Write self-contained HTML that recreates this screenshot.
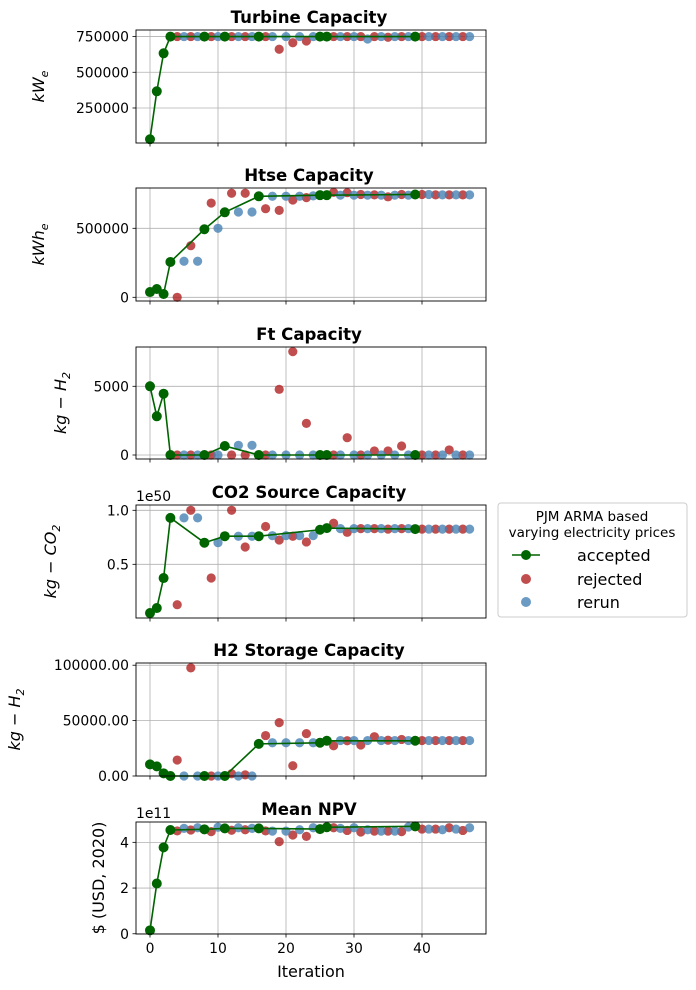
<!DOCTYPE html>
<html><head><meta charset="utf-8"><style>
html,body{margin:0;padding:0;background:#fff;}
svg{display:block;font-family:"DejaVu Sans","Liberation Sans",sans-serif;}
</style></head><body>
<svg id="chart" width="696" height="990" viewBox="0 0 696 990" xmlns="http://www.w3.org/2000/svg"></svg>
<script>
// Iteration status: A = accepted, R = rejected, B = rerun
const status = ["A","A","A","A","R","B","R","B","A","R","B","A","R","B","R","B","A","R","B","R","B","R","B","R","B","A","A","R","B","R","B","R","B","R","B","R","B","R","B","A","R","B","R","B","R","B","R","B"];
const turbineVals = [31000,367000,633000,750000,750000,750000,750000,750000,750000,750000,750000,750000,750000,750000,750000,750000,750000,750000,750000,661000,750000,707000,750000,719000,750000,750000,750000,750000,750000,750000,750000,750000,733000,750000,750000,745000,750000,750000,750000,750000,750000,750000,750000,750000,750000,750000,750000,750000];
const htseVals = [38000,60000,24000,256000,0,261000,374000,261000,493000,683000,500000,616000,754000,618000,754000,618000,732000,642000,732000,630000,732000,705000,732000,722000,735000,740000,740000,760000,740000,758000,740000,745000,740000,742000,740000,728000,740000,745000,740000,745000,745000,745000,742000,742000,742000,742000,742000,742000];
const ftVals = [5000,2816,4460,0,0,0,0,0,0,0,0,655,0,706,0,706,0,0,0,4780,0,7520,0,2300,0,0,0,0,0,1260,0,0,0,290,0,290,0,655,0,0,0,0,0,0,370,0,0,0];
const co2Vals = [0.049,0.095,0.373,0.93,0.126,0.93,1.0,0.93,0.70,0.373,0.70,0.76,1.0,0.76,0.66,0.76,0.76,0.85,0.765,0.725,0.765,0.76,0.765,0.707,0.765,0.82,0.835,0.88,0.83,0.796,0.83,0.83,0.83,0.83,0.83,0.826,0.83,0.83,0.83,0.826,0.826,0.826,0.826,0.826,0.826,0.826,0.826,0.826];
const h2Vals = [10500,8700,2400,0,14400,0,97600,0,0,0,0,0,2000,0,1000,0,29000,36500,30000,48200,30000,9300,30000,38300,30000,30000,31800,27300,32000,31800,32000,28000,32000,35500,32000,32300,32000,33000,32000,31800,32000,32000,32000,32000,32000,32000,32000,32000];
const npvVals = [0.15,2.2,3.78,4.54,4.5,4.61,4.54,4.64,4.57,4.47,4.66,4.61,4.53,4.64,4.55,4.61,4.61,4.5,4.49,4.03,4.49,4.32,4.55,4.26,4.64,4.58,4.66,4.64,4.61,4.52,4.64,4.45,4.55,4.49,4.49,4.49,4.49,4.47,4.67,4.70,4.58,4.58,4.58,4.55,4.64,4.58,4.52,4.64];
const xTicks = [0,10,20,30,40];
const turbineTicks = [250000,500000,750000];
const htseTicks = [0,500000];
const ftTicks = [0,5000];
const co2Ticks = [0.5,1.0];
const co2TickLabels = ["0.5","1.0"];
const h2Ticks = [0,50000,100000];
const h2TickLabels = ["0.00","50000.00","100000.00"];
const npvTicks = [0,2,4];

const NS="http://www.w3.org/2000/svg";
const svg=document.getElementById('chart');
function mk(tag,attrs,parent){const e=document.createElementNS(NS,tag);for(const k in attrs)e.setAttribute(k,attrs[k]);(parent||svg).appendChild(e);return e;}
const AX_L=136, AX_R=486;
const TICK_FS=13.9, LAB_FS=16;
function xScale(v){return 150+v*6.8;}

const panels=[
 {name:"turbine",title:"Turbine Capacity",top:30,bot:143,ymin:4900,ymax:796000,vals:turbineVals,ticks:turbineTicks,labels:turbineTicks.map(String),ylab:'<tspan font-style="italic">kW</tspan><tspan font-style="italic" font-size="11" dy="4">e</tspan>',ylx:46},
 {name:"htse",title:"Htse Capacity",top:188,bot:301,ymin:-26800,ymax:792000,vals:htseVals,ticks:htseTicks,labels:htseTicks.map(String),ylab:'<tspan font-style="italic">kWh</tspan><tspan font-style="italic" font-size="11" dy="4">e</tspan>',ylx:46},
 {name:"ft",title:"Ft Capacity",top:347,bot:459,ymin:-291,ymax:7860,vals:ftVals,ticks:ftTicks,labels:ftTicks.map(String),ylab:'<tspan font-style="italic">kg − H</tspan><tspan font-style="italic" font-size="11" dy="4">2</tspan>',ylx:68},
 {name:"co2",title:"CO2 Source Capacity",top:505,bot:618,ymin:0.003,ymax:1.049,vals:co2Vals,ticks:co2Ticks,labels:co2TickLabels,ylab:'<tspan font-style="italic">kg − CO</tspan><tspan font-style="italic" font-size="11" dy="4">2</tspan>',ylx:58,offset:"1e50"},
 {name:"h2",title:"H2 Storage Capacity",top:663,bot:776,ymin:0,ymax:102000,vals:h2Vals,ticks:h2Ticks,labels:h2TickLabels,ylab:'<tspan font-style="italic">kg − H</tspan><tspan font-style="italic" font-size="11" dy="4">2</tspan>',ylx:22},
 {name:"npv",title:"Mean NPV",top:822,bot:934,ymin:-0.01,ymax:4.89,vals:npvVals,ticks:npvTicks,labels:npvTicks.map(String),ylab:'$ (USD, 2020)',ylx:106,offset:"1e11"}
];

panels.forEach((p,pi)=>{
  const g=mk('g',{});
  
  
  const yS=v=>p.bot-(v-p.ymin)/(p.ymax-p.ymin)*(p.bot-p.top);
  xTicks.forEach(t=>{const l=mk('line',{x1:xScale(t),x2:xScale(t),y1:p.top,y2:p.bot,stroke:'#b0b0b0','stroke-width':0.8},g);});
  p.ticks.forEach((t,i)=>{
    const y=yS(t);
    const l=mk('line',{x1:AX_L,x2:AX_R,y1:y,y2:y,stroke:'#b0b0b0','stroke-width':0.8},g);
    
    mk('line',{x1:AX_L-3.5,x2:AX_L,y1:y,y2:y,stroke:'#000','stroke-width':0.8},g);
    const tx=mk('text',{x:AX_L-7,y:y+5,'text-anchor':'end','font-size':TICK_FS},g);
    tx.textContent=p.labels[i];
    
  });
  xTicks.forEach(t=>{mk('line',{x1:xScale(t),x2:xScale(t),y1:p.bot,y2:p.bot+3.5,stroke:'#000','stroke-width':0.8},g);});
  ['R','B'].forEach(s=>{
    p.vals.forEach((v,i)=>{
      if(status[i]!==s)return;
      const c=mk('circle',{cx:xScale(i),cy:yS(v),r:4.6,fill:s==='R'?'#b22222':'#4682b4','fill-opacity':0.8},g);
      
      
    });
  });
  let d='';
  p.vals.forEach((v,i)=>{if(status[i]==='A'){d+=(d?'L':'M')+xScale(i)+','+yS(v);}});
  const pl=mk('path',{d:d,fill:'none',stroke:'#006400','stroke-width':1.6},g);
  
  p.vals.forEach((v,i)=>{
    if(status[i]!=='A')return;
    const c=mk('circle',{cx:xScale(i),cy:yS(v),r:5,fill:'#006400'},g);
    
    
  });
  const fr=mk('rect',{x:AX_L,y:p.top,width:AX_R-AX_L,height:p.bot-p.top,fill:'none',stroke:'#000','stroke-width':0.9},g);
  
  const ti=mk('text',{x:309,y:p.top-7,'text-anchor':'middle','font-size':16.6,'font-weight':'bold'},g);
  ti.textContent=p.title;
  
  const yl=mk('text',{x:0,y:0,'text-anchor':'middle','font-size':LAB_FS,transform:`translate(${p.ylx-2},${(p.top+p.bot)/2}) rotate(-90)`},g);
  yl.innerHTML=p.ylab;
  
  if(p.offset){
    const o=mk('text',{x:136,y:p.top-4,'font-size':TICK_FS},g);
    o.textContent=p.offset;
    
  }
  if(pi===panels.length-1){
    xTicks.forEach(t=>{
      const tx=mk('text',{x:xScale(t),y:p.bot+19,'text-anchor':'middle','font-size':TICK_FS},g);
      tx.textContent=String(t);
      
    });
    const xl=mk('text',{x:311,y:977,'text-anchor':'middle','font-size':LAB_FS},g);
    xl.textContent='Iteration';
    
  }
});

const lg=mk('g',{});


mk('rect',{x:498,y:503,width:189,height:114,rx:3,fill:'#fff',stroke:'#cccccc','stroke-width':1},lg);
const lt1=mk('text',{x:592,y:521,'text-anchor':'middle','font-size':13.5},lg);lt1.textContent='PJM ARMA based';

const lt2=mk('text',{x:592,y:537,'text-anchor':'middle','font-size':13.5},lg);lt2.textContent='varying electricity prices';

const e1=mk('g',{},lg);
mk('line',{x1:512,x2:540,y1:555,y2:555,stroke:'#006400','stroke-width':1.6},e1);
mk('circle',{cx:526,cy:555,r:5,fill:'#006400'},e1);
const t1=mk('text',{x:577,y:561,'font-size':16},e1);t1.textContent='accepted';
const e2=mk('g',{},lg);
mk('circle',{cx:526,cy:579,r:5,fill:'#b22222','fill-opacity':0.8},e2);
const t2=mk('text',{x:577,y:585,'font-size':16},e2);t2.textContent='rejected';
const e3=mk('g',{},lg);
mk('circle',{cx:526,cy:602,r:5,fill:'#4682b4','fill-opacity':0.8},e3);
const t3=mk('text',{x:577,y:608,'font-size':16},e3);t3.textContent='rerun';
</script>
</body></html>
